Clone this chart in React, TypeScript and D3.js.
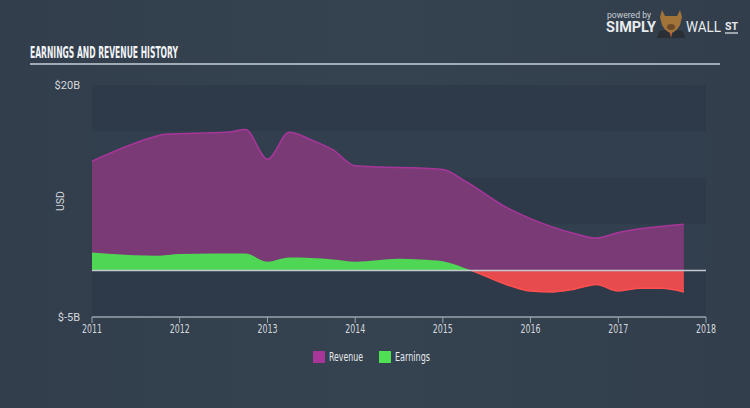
import React from "react";
import * as d3 from "d3";

const revenueDates = ["2011-01-01","2011-09-15","2011-11-01","2012-07-15","2012-10-01","2013-01-01","2013-04-01","2013-07-01","2013-10-01","2014-01-01","2015-01-01","2015-04-01","2015-10-01","2016-01-01","2016-07-01","2016-10-01","2017-01-01","2017-04-01","2017-10-01"];
const revenueValues = [11.8,14.4,14.7,14.9,15.2,12.0,14.9,14.1,13.0,11.3,10.9,9.7,6.7,5.6,4.0,3.5,4.1,4.5,5.0];

const earningsDates = ["2011-01-01","2011-10-01","2012-01-01","2012-10-01","2013-01-01","2013-04-01","2013-10-01","2014-01-01","2014-07-01","2014-10-01","2015-01-01","2015-05-01","2015-10-15","2016-01-01","2016-04-01","2016-07-01","2016-10-01","2017-01-01","2017-04-01","2017-07-01","2017-10-01"];
const earningsValues = [1.95,1.6,1.8,1.85,0.95,1.4,1.2,0.96,1.28,1.2,1.0,0.0,-1.7,-2.2,-2.3,-2.0,-1.5,-2.2,-1.9,-1.9,-2.3];

const yearTicks = [2011,2012,2013,2014,2015,2016,2017,2018];
const yTickValues = [20,-5];
const yTickLabels = ["$20B","$-5B"];
const bandEdges = [20,15,10,5,0,-5];
const legendItems = ["Revenue","Earnings"];

const W = 750, H = 408;
const parse = d3.timeParse("%Y-%m-%d");

export default function App() {
  const x = d3.scaleTime().domain([new Date(2011,0,1), new Date(2018,0,1)]).range([92, 706]);
  const y = d3.scaleLinear().domain([-5, 20]).range([317, 85]);

  const rev = revenueDates.map((d, i) => ({ d: parse(d)!, v: revenueValues[i] }));
  const earn = earningsDates.map((d, i) => ({ d: parse(d)!, v: earningsValues[i] }));

  const areaGen = d3.area<{d: Date; v: number}>().x(p => x(p.d)).y0(y(0)).y1(p => y(p.v)).curve(d3.curveMonotoneX);
  const lineGen = d3.line<{d: Date; v: number}>().x(p => x(p.d)).y(p => y(p.v)).curve(d3.curveMonotoneX);

  const revColor = "#a8369a";
  const revFill = "#7a3a75";
  const green = "#4fd655";
  const red = "#e84b4d";
  const textCol = "#d4d9de";
  const font = "'Liberation Sans Narrow','DejaVu Sans Condensed',Roboto,sans-serif";

  return (
    <svg width={W} height={H} style={{ position: "absolute", left: 0, top: 0 }}>
      <defs>
        <clipPath id="above"><rect x={0} y={0} width={W} height={y(0)} /></clipPath>
        <clipPath id="below"><rect x={0} y={y(0)} width={W} height={H} /></clipPath>
        <linearGradient id="bg" x1="0" x2="1" y1="0" y2="0">
          <stop offset="0" stopColor="#323e4c" />
          <stop offset="0.5" stopColor="#35424f" />
          <stop offset="1" stopColor="#323e4c" />
        </linearGradient>
      </defs>
      <rect width={W} height={H} fill="url(#bg)" />

      {/* logo */}
      <text x={607} y={18} fontFamily="Roboto,sans-serif" fontSize={9} fill="#c9d0d6" textLength={44} lengthAdjust="spacingAndGlyphs">powered by</text>
      <text x={606} y={32} fontFamily="Roboto,sans-serif" fontWeight={700} fontSize={14} fill="#e8ecef" textLength={50} lengthAdjust="spacingAndGlyphs">SIMPLY</text>
      <g>
        <path d="M662,10 L665,16 L677,16 L680,10 L682,17 L680,25 L676,31 L671,33 L666,31 L662,25 L660,17 Z" fill="#a3743a" />
        <ellipse cx={671} cy={27} rx={4} ry={3} fill="#6b4a2a" />
        <path d="M659,31 L666,30 L671,36 L676,30 L683,31 L685,38 L657,38 Z" fill="#2a2f36" />
        <path d="M670,32 L672,32 L671,38 Z" fill="#e06a2c" />
      </g>
      <text x={686} y={32} fontFamily="Roboto,sans-serif" fontSize={14} fill="#e8ecef" textLength={35} lengthAdjust="spacingAndGlyphs">WALL</text>
      <text x={725} y={30} fontFamily="Roboto,sans-serif" fontWeight={700} fontSize={10} fill="#e8ecef" textLength={13} lengthAdjust="spacingAndGlyphs">ST</text>
      <line x1={725} x2={738} y1={33} y2={33} stroke="#e8ecef" strokeWidth={1.2} />

      {/* title */}
      <text x={30} y={58} fontFamily={font} fontWeight={700} fontSize={15} fill="#f2f4f6" textLength={148} lengthAdjust="spacingAndGlyphs">EARNINGS AND REVENUE HISTORY</text>
      <line x1={30} x2={720} y1={64} y2={64} stroke="#c9d0d7" strokeWidth={1.5} />

      {/* bands */}
      {bandEdges.slice(0, -1).map((v, i) => (
        <rect key={v} x={x(new Date(2011,0,1))} width={x(new Date(2018,0,1)) - x(new Date(2011,0,1))}
          y={y(v)} height={y(bandEdges[i + 1]) - y(v)} fill={i % 2 === 0 ? "#2e3a49" : "#323f4e"} />
      ))}

      {/* revenue */}
      <path d={areaGen(rev)!} fill={revFill} />
      <path d={lineGen(rev)!} fill="none" stroke={revColor} strokeWidth={1.5} />

      {/* earnings */}
      <g clipPath="url(#above)">
        <path d={areaGen(earn)!} fill={green} />
      </g>
      <g clipPath="url(#below)">
        <path d={areaGen(earn)!} fill={red} />
        <path d={lineGen(earn)!} fill="none" stroke="#ff5050" strokeWidth={1.5} />
      </g>

      {/* zero line */}
      <line x1={92} x2={706} y1={y(0)} y2={y(0)} stroke="#c3cad1" strokeWidth={1.5} />

      {/* y labels */}
      {yTickValues.map((v, i) => (
        <text key={v} x={80} y={y(v) + 4} textAnchor="end" fontFamily="Roboto,sans-serif" fontSize={11} fill={textCol}>{yTickLabels[i]}</text>
      ))}
      <text transform={`translate(64,201) rotate(-90)`} textAnchor="middle" fontFamily="Roboto,sans-serif" fontSize={10.5} fill={textCol}>USD</text>

      {/* x axis */}
      <line x1={92} x2={706} y1={317} y2={317} stroke="#9aa5b1" strokeWidth={1.5} />
      {yearTicks.map(t => {
        const xx = x(new Date(t, 0, 1));
        return (
          <g key={t}>
            <line x1={xx} x2={xx} y1={317} y2={323} stroke="#9aa5b1" strokeWidth={1} />
            <text x={xx} y={333} textAnchor="middle" fontFamily={font} fontSize={11.5} fill={textCol} textLength={20} lengthAdjust="spacingAndGlyphs">{t}</text>
          </g>
        );
      })}

      {/* legend */}
      {legendItems.map((name, i) => {
        const lx = i === 0 ? 313 : 379;
        return (
          <g key={name}>
            <rect x={lx} y={351} width={12} height={12} fill={i === 0 ? "#a8369a" : "#4fe053"} />
            <text x={lx + 16} y={361} fontFamily={font} fontSize={11.5} fill="#e6eaee" textLength={i === 0 ? 34 : 35} lengthAdjust="spacingAndGlyphs">{name}</text>
          </g>
        );
      })}
    </svg>
  );
}
